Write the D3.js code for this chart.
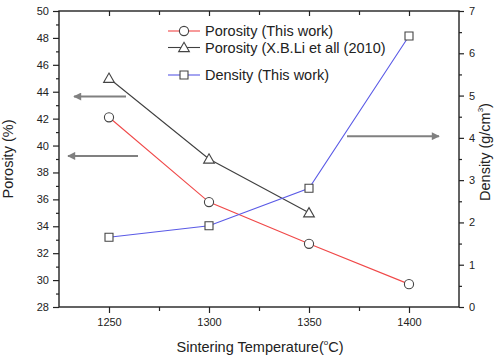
<!DOCTYPE html>
<html>
<head>
<meta charset="utf-8">
<script src="https://cdn.jsdelivr.net/npm/d3@7"></script>
<style>
  body { margin: 0; background: #fff; }
  text { font-family: "Liberation Sans", Arial, sans-serif; fill: #222; }
</style>
</head>
<body>
<div id="svg_container"></div>
<script>
// Our data
const temps = [1250, 1300, 1350, 1400];
const porosityThisWork = [42.1, 35.8, 32.7, 29.7];
const liTemps = [1250, 1300, 1350];
const porosityLi2010 = [45.0, 39.0, 35.0];
const densityThisWork = [1.65, 1.92, 2.81, 6.41];

const xTicks = [1250, 1300, 1350, 1400];
const yLeftTicks = [28, 30, 32, 34, 36, 38, 40, 42, 44, 46, 48, 50];
const yRightTicks = [0, 1, 2, 3, 4, 5, 6, 7];

// arrows: [x1, x2, value, axis]
const arrows = [
    { x1: 1258.5, x2: 1232.5, v: 43.64, axis: "left" },
    { x1: 1264.5, x2: 1229.5, v: 39.23, axis: "left" },
    { x1: 1369, x2: 1415, v: 4.04, axis: "right" }
];

function createChart() {
    let width = 494, height = 359;
    let left = 59, right = 459, top = 11, bottom = 307;

    const svg = d3.select('#svg_container').append("svg")
        .attr("width", width)
        .attr("height", height);

    const x = d3.scaleLinear().domain([1225, 1425]).range([left, right]);
    const yL = d3.scaleLinear().domain([28, 50]).range([bottom, top]);
    const yR = d3.scaleLinear().domain([0, 7]).range([bottom, top]);

    const axisColor = "#222";

    // bottom axis
    svg.append("g").attr("transform", `translate(0,${bottom})`)
        .call(d3.axisBottom(x).tickValues(xTicks).tickSize(6).tickPadding(5).tickFormat(d3.format("d")));
    svg.append("g").attr("transform", `translate(0,${bottom})`)
        .call(d3.axisBottom(x).tickValues([1275, 1325, 1375]).tickSize(4).tickFormat(""));

    // top axis (ticks inward)
    svg.append("g").attr("transform", `translate(0,${top})`)
        .call(d3.axisBottom(x).tickValues(xTicks).tickSize(5).tickFormat(""));
    svg.append("g").attr("transform", `translate(0,${top})`)
        .call(d3.axisBottom(x).tickValues([1275, 1325, 1375]).tickSize(4).tickFormat(""));

    // left axis
    svg.append("g").attr("transform", `translate(${left},0)`)
        .call(d3.axisLeft(yL).tickValues(yLeftTicks).tickSize(6).tickPadding(4).tickFormat(d3.format("d")));
    svg.append("g").attr("transform", `translate(${left},0)`)
        .call(d3.axisLeft(yL).tickValues(d3.range(29, 50, 2)).tickSize(3).tickFormat(""));

    // right axis
    svg.append("g").attr("transform", `translate(${right},0)`)
        .call(d3.axisRight(yR).tickValues(yRightTicks).tickSize(5).tickPadding(5).tickFormat(d3.format("d")));
    svg.append("g").attr("transform", `translate(${right},0)`)
        .call(d3.axisRight(yR).tickValues(d3.range(0.5, 7, 1)).tickSize(3).tickFormat(""));

    svg.selectAll(".domain").remove();
    svg.selectAll(".tick line").attr("stroke", axisColor).attr("stroke-width", 1.2);
    svg.selectAll(".tick text").attr("font-size", 11).attr("fill", "#222")
        .attr("font-family", "'Liberation Sans', Arial, sans-serif");

    // frame
    svg.append("rect")
        .attr("x", left).attr("y", top)
        .attr("width", right - left).attr("height", bottom - top)
        .attr("fill", "none").attr("stroke", axisColor).attr("stroke-width", 1.4);

    // axis titles
    svg.append("text")
        .attr("transform", `translate(13,${(top + bottom) / 2}) rotate(-90)`)
        .attr("text-anchor", "middle").attr("font-size", 14.5)
        .text("Porosity (%)");

    const rt = svg.append("text")
        .attr("transform", `translate(490,152) rotate(-90)`)
        .attr("text-anchor", "middle").attr("font-size", 14.5);
    rt.append("tspan").text("Density (g/cm");
    rt.append("tspan").attr("font-size", 8).attr("dy", -7).text("3");
    rt.append("tspan").attr("dy", 7).text(")");

    const xt = svg.append("text")
        .attr("x", (left + right) / 2 + 1).attr("y", 352)
        .attr("text-anchor", "middle").attr("font-size", 14.5);
    xt.append("tspan").text("Sintering Temperature(");
    xt.append("tspan").attr("font-size", 8).attr("dy", -7).text("o");
    xt.append("tspan").attr("dy", 7).text("C)");

    // arrows
    const defs = svg.append("defs");
    defs.append("marker")
        .attr("id", "ahead")
        .attr("viewBox", "0 0 10 10")
        .attr("refX", 9).attr("refY", 5)
        .attr("markerWidth", 5).attr("markerHeight", 4)
        .attr("markerUnits", "strokeWidth")
        .attr("orient", "auto")
        .append("path")
        .attr("d", "M0,0 L10,5 L0,10 Z")
        .attr("fill", "#808080");

    svg.append("g").selectAll("line")
        .data(arrows)
        .join("line")
        .attr("x1", d => x(d.x1))
        .attr("x2", d => x(d.x2))
        .attr("y1", d => d.axis === "left" ? yL(d.v) : yR(d.v))
        .attr("y2", d => d.axis === "left" ? yL(d.v) : yR(d.v))
        .attr("stroke", "#808080")
        .attr("stroke-width", 2)
        .attr("marker-end", "url(#ahead)");

    const markerStroke = "#444";
    const sym = {
        circle: d3.symbol().type(d3.symbolCircle).size(66),
        triangle: d3.symbol().type(d3.symbolTriangle).size(50),
        square: d3.symbol().type(d3.symbolSquare).size(64)
    };

    function series(xs, ys, yScale, color, shape) {
        const pts = xs.map((t, i) => [x(t), yScale(ys[i])]);
        svg.append("path")
            .attr("d", d3.line()(pts))
            .attr("fill", "none")
            .attr("stroke", color)
            .attr("stroke-width", 1.1);
        svg.append("g").selectAll("path")
            .data(pts)
            .join("path")
            .attr("transform", d => `translate(${d[0]},${d[1] + (shape === "triangle" ? 1 : 0)})`)
            .attr("d", sym[shape])
            .attr("fill", "#fff")
            .attr("stroke", markerStroke)
            .attr("stroke-width", 1.1);
    }

    series(temps, porosityThisWork, yL, "#f04848", "circle");
    series(liTemps, porosityLi2010, yL, "#404040", "triangle");
    series(temps, densityThisWork, yR, "#5a5ae6", "square");

    // legend
    const legend = [
        { label: "Porosity (This work)", color: "#f04848", shape: "circle", y: 31 },
        { label: "Porosity (X.B.Li et all (2010)", color: "#404040", shape: "triangle", y: 47.5 },
        { label: "Density (This work)", color: "#5a5ae6", shape: "square", y: 75 }
    ];
    const lg = svg.append("g").selectAll("g")
        .data(legend)
        .join("g")
        .attr("transform", d => `translate(0,${d.y})`);
    lg.append("line")
        .attr("x1", 168).attr("x2", 200)
        .attr("stroke", d => d.color).attr("stroke-width", 1.1);
    lg.append("path")
        .attr("transform", d => `translate(184,${d.shape === "triangle" ? 1 : 0})`)
        .attr("d", d => sym[d.shape]())
        .attr("fill", "#fff")
        .attr("stroke", markerStroke)
        .attr("stroke-width", 1.1);
    lg.append("text")
        .attr("x", 205).attr("y", 5)
        .attr("font-size", 14.5)
        .text(d => d.label);
}

document.addEventListener('DOMContentLoaded', function (e) {
    createChart();
});
</script>
</body>
</html>
